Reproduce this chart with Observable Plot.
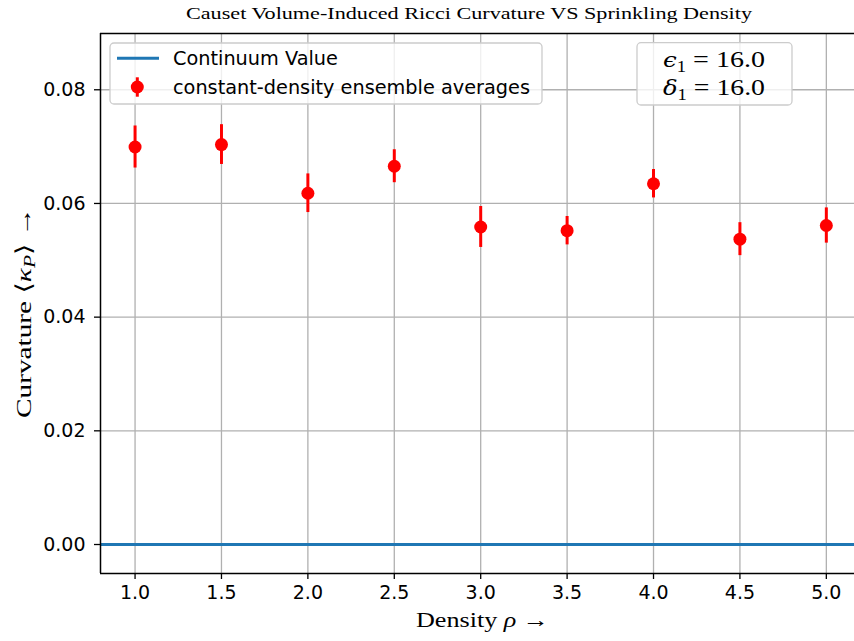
<!DOCTYPE html>
<html>
<head>
<meta charset="utf-8">
<script src="https://cdn.jsdelivr.net/npm/d3@7"></script>
<script src="https://cdn.jsdelivr.net/npm/@observablehq/plot@0.6"></script>
<style>
  html, body { margin: 0; padding: 0; background: white; }
  #chart { width: 854px; height: 641px; overflow: hidden; }
</style>
</head>
<body>
<div id="chart"></div>
<script>
// ---- data ----
const densities = [1.0, 1.5, 2.0, 2.5, 3.0, 3.5, 4.0, 4.5, 5.0];
const curvatureMean = [0.06993, 0.07036, 0.0618, 0.06655, 0.05586, 0.05521, 0.06347, 0.05372, 0.05612];
const curvatureErr = [0.0037, 0.0035, 0.0034, 0.0029, 0.0036, 0.0025, 0.0025, 0.0029, 0.0031];
const continuumValue = [0];
const xTicks = [1.0, 1.5, 2.0, 2.5, 3.0, 3.5, 4.0, 4.5, 5.0];
const yTicks = [0.00, 0.02, 0.04, 0.06, 0.08];
const titleText = "Causet Volume-Induced Ricci Curvature VS Sprinkling Density";
const legendLabels = ["Continuum Value", "constant-density ensemble averages"];
const paramLabels = [["ϵ", "1", "16.0"], ["δ", "1", "16.0"]];

const xDomain = [0.8, 5.163];
const yDomain = [-0.0051, 0.0899];

const data = densities.map((d, i) => ({
  x: d, y: curvatureMean[i], lo: curvatureMean[i] - curvatureErr[i], hi: curvatureMean[i] + curvatureErr[i]
}));

const gridStyle = {stroke: "#b0b0b0", strokeOpacity: 1, strokeWidth: 1.3};

const svgEl = Plot.plot({
  width: 854, height: 641,
  marginLeft: 100, marginRight: 0, marginTop: 33, marginBottom: 68,
  style: {fontFamily: "DejaVu Sans", fontSize: "19px", color: "black", background: "white", overflow: "hidden"},
  x: {domain: xDomain, label: null},
  y: {domain: yDomain, label: null},
  marks: [
    Plot.gridX(xTicks, gridStyle),
    Plot.gridY(yTicks, gridStyle),
    Plot.ruleY(continuumValue, {stroke: "#1f77b4", strokeWidth: 3}),
    Plot.ruleX(data, {x: "x", y1: "lo", y2: "hi", stroke: "#ff0000", strokeWidth: 3}),
    Plot.dot(data, {x: "x", y: "y", r: 6.5, fill: "#ff0000", stroke: "none"}),
    Plot.axisX(xTicks, {tickSize: 6, tickPadding: 6, tickFormat: d => d.toFixed(1), fontSize: 19, stroke: "black", strokeWidth: 1.3, label: null}),
    Plot.axisY(yTicks, {tickSize: 6, tickPadding: 9, tickFormat: d => d.toFixed(2), fontSize: 19, stroke: "black", strokeWidth: 1.3, label: null}),
    Plot.ruleX([xDomain[0]], {stroke: "black", strokeWidth: 1.5}),
    Plot.ruleY([yDomain[0], yDomain[1]], {stroke: "black", strokeWidth: 1.5})
  ]
});
document.getElementById("chart").appendChild(svgEl);

const svg = d3.select(svgEl);
const serif = "'Liberation Serif', 'DejaVu Serif', serif";

// title
svg.append("text")
  .attr("x", 469).attr("y", 19)
  .attr("text-anchor", "middle")
  .attr("font-family", serif).attr("font-size", 16)
  .attr("textLength", 566).attr("lengthAdjust", "spacingAndGlyphs")
  .attr("fill", "black")
  .text(titleText);

// x label
const xl = svg.append("text")
  .attr("x", 416).attr("y", 627)
  .attr("text-anchor", "start")
  .attr("font-family", serif).attr("font-size", 21).attr("fill", "black")
  .attr("textLength", 133).attr("lengthAdjust", "spacingAndGlyphs");
xl.append("tspan").text("Density ");
xl.append("tspan").attr("font-style", "italic").text("ρ");
xl.append("tspan").text(" →");

// y label
const yl = svg.append("text")
  .attr("transform", "translate(31,418) rotate(-90)")
  .attr("text-anchor", "start")
  .attr("font-family", serif).attr("font-size", 22).attr("fill", "black")
  .attr("textLength", 211).attr("lengthAdjust", "spacingAndGlyphs");
yl.append("tspan").text("Curvature ⟨");
yl.append("tspan").attr("font-style", "italic").text("κ");
yl.append("tspan").attr("font-style", "italic").attr("font-size", 16).attr("dy", 4).text("P");
yl.append("tspan").attr("dy", -4).text("⟩ →");

// legend 1
const lg = svg.append("g").attr("text-anchor", "start");
lg.append("rect").attr("x", 110).attr("y", 43).attr("width", 432).attr("height", 61).attr("rx", 4)
  .attr("fill", "white").attr("fill-opacity", 0.8).attr("stroke", "#cccccc").attr("stroke-width", 1.3);
lg.append("line").attr("x1", 117).attr("x2", 159).attr("y1", 58.3).attr("y2", 58.3)
  .attr("stroke", "#1f77b4").attr("stroke-width", 3);
lg.append("line").attr("x1", 137.3).attr("x2", 137.3).attr("y1", 77.3).attr("y2", 96.7)
  .attr("stroke", "#ff0000").attr("stroke-width", 3);
lg.append("circle").attr("cx", 137.3).attr("cy", 87).attr("r", 6.5).attr("fill", "#ff0000");
lg.append("text").attr("x", 173).attr("y", 65).attr("font-family", "DejaVu Sans").attr("font-size", 19.3)
  .attr("text-anchor", "start").attr("fill", "black").text(legendLabels[0]);
lg.append("text").attr("x", 173).attr("y", 94).attr("font-family", "DejaVu Sans").attr("font-size", 19.3)
  .attr("text-anchor", "start").attr("fill", "black").text(legendLabels[1]);

// legend 2 (parameters)
const pg = svg.append("g").attr("text-anchor", "start");
pg.append("rect").attr("x", 637).attr("y", 42.7).attr("width", 155).attr("height", 62.3).attr("rx", 4)
  .attr("fill", "white").attr("fill-opacity", 0.8).attr("stroke", "#cccccc").attr("stroke-width", 1.3);
paramLabels.forEach((p, i) => {
  const t = pg.append("text").attr("x", 663).attr("y", 67 + i * 28)
    .attr("text-anchor", "start")
    .attr("font-family", serif).attr("font-size", 24).attr("fill", "black")
    .attr("textLength", 102).attr("lengthAdjust", "spacingAndGlyphs");
  t.append("tspan").attr("font-style", "italic").attr("font-family", "'DejaVu Serif', serif").attr("font-size", 21).text(p[0]);
  t.append("tspan").attr("font-size", 16).attr("dy", 5).text(p[1]);
  t.append("tspan").attr("dy", -5).text(" = " + p[2]);
});
</script>
</body>
</html>
